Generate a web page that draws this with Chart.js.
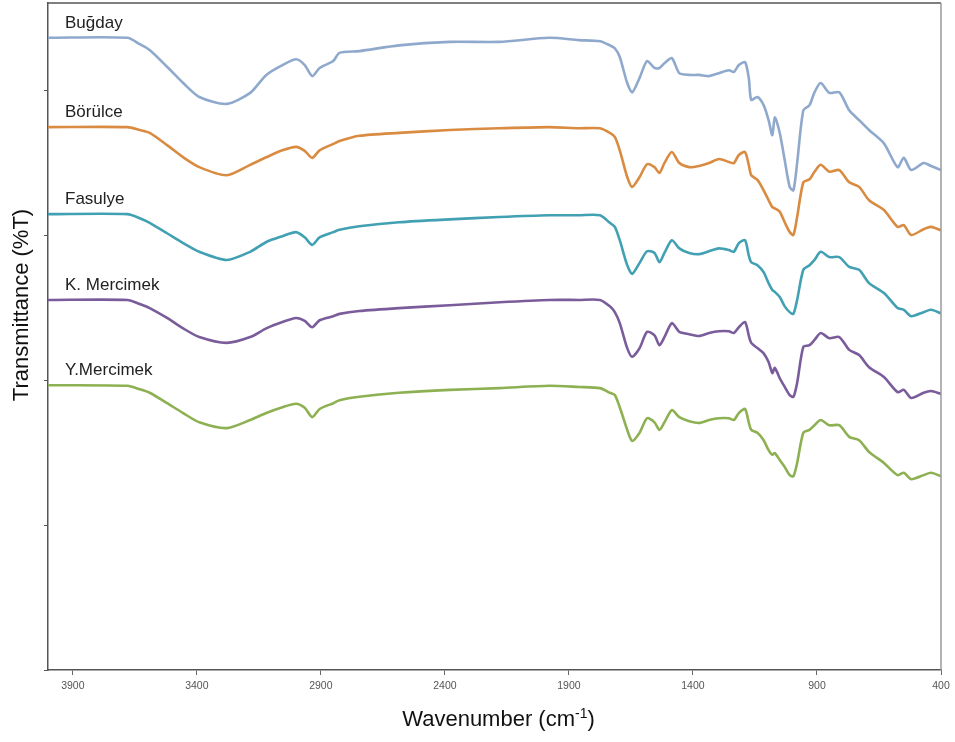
<!DOCTYPE html>
<html>
<head>
<meta charset="utf-8">
<script src="https://cdn.jsdelivr.net/npm/chart.js@4/dist/chart.umd.min.js"></script>
<style>
  html, body { margin: 0; padding: 0; background: #ffffff; }
  #wrap { width: 955px; height: 742px; }
</style>
</head>
<body>
<div id="wrap"><canvas id="ftir" width="955" height="742"></canvas></div>
<script>
// FTIR spectra of legume flours, stacked with vertical offsets
const wavenumbers = [4000,3680,3630,3590,3520,3455,3390,3280,3185,3120,3055,3000,2965,2935,2905,2850,2825,2745,2585,2380,2180,1980,1860,1775,1735,1715,1695,1665,1645,1615,1585,1555,1535,1515,1485,1455,1415,1375,1335,1295,1255,1235,1215,1190,1175,1165,1140,1115,1095,1080,1070,1050,1030,1010,995,980,955,930,910,885,850,810,770,730,690,630,575,550,520,470,440,400];

const seriesNames = ['Buğday', 'Börülce', 'Fasulye', 'K. Mercimek', 'Y.Mercimek'];

const bugday = [109.0,109.0,107.9,106.9,104.0,101.2,98.8,97.6,99.5,102.6,104.3,105.3,104.3,102.4,103.8,105.0,106.4,106.7,107.7,108.3,108.3,109.0,108.6,108.4,107.7,107.2,105.7,101.2,99.6,102.1,105.0,103.8,103.8,104.6,105.5,102.9,102.6,102.6,102.4,102.9,103.4,103.1,104.3,104.8,102.1,98.3,98.8,97.4,94.8,92.2,95.3,92.6,87.9,83.3,82.7,87.4,96.5,97.4,99.6,101.2,99.5,99.6,96.5,94.8,93.1,90.8,86.7,88.3,86.2,87.4,86.9,86.2];
const borulce = [93.6,93.6,93.1,92.6,90.5,88.4,86.7,85.3,87.1,88.4,89.6,90.2,89.5,88.3,89.6,90.7,91.2,92.1,92.6,93.1,93.4,93.6,93.4,93.4,92.6,91.9,89.6,85.0,83.3,85.0,87.2,86.7,85.7,87.4,89.3,87.4,86.7,86.9,87.4,88.1,87.6,87.4,88.8,89.3,87.1,85.3,84.5,82.7,81.0,79.8,79.6,79.0,77.2,75.5,75.0,78.1,84.1,84.6,85.9,87.1,85.9,86.2,84.1,83.3,81.0,79.3,76.4,76.7,75.0,76.0,76.4,75.8];
const fasulye = [78.6,78.6,77.9,77.1,75.3,73.6,72.1,70.7,72.1,73.8,74.8,75.5,74.6,73.3,74.6,75.5,75.9,76.5,77.2,77.7,78.1,78.4,78.4,78.4,77.1,76.4,74.1,69.8,68.3,70.2,72.2,71.9,70.3,71.9,74.1,72.7,71.9,71.7,72.2,72.7,72.4,72.1,73.6,74.1,71.5,70.3,69.8,68.6,66.7,65.5,65.2,64.3,62.7,61.7,61.4,63.8,69.0,69.8,70.7,72.1,71.2,71.2,69.5,69.0,66.7,65.0,62.4,62.1,61.0,61.7,62.1,61.5];
const kMercimek = [63.8,63.8,63.1,62.4,60.7,58.9,57.4,56.4,57.4,58.9,60.0,60.7,60.2,59.1,60.3,61.0,61.4,61.9,62.4,62.9,63.4,63.8,63.8,63.8,62.7,61.7,59.8,55.5,54.0,55.5,58.3,57.7,56.0,57.4,59.8,58.3,57.9,57.6,58.1,58.4,58.4,58.1,59.1,60.0,57.7,56.4,55.5,54.6,53.1,51.2,52.1,50.3,48.8,47.4,47.1,49.5,55.7,56.0,56.9,58.1,57.2,57.4,55.2,54.3,52.2,50.5,47.9,48.3,46.9,47.8,48.1,47.6];
const yMercimek = [49.1,49.0,48.4,47.8,46.0,44.3,42.7,41.7,43.1,44.3,45.3,45.9,45.2,43.6,45.0,46.0,46.5,47.1,47.8,48.3,48.6,49.0,48.8,48.6,47.8,47.4,45.3,41.4,39.5,40.9,43.4,42.7,41.4,42.7,44.8,43.6,42.9,42.6,43.1,43.4,43.4,43.1,44.3,45.0,42.7,41.4,40.9,39.6,37.9,37.1,37.4,36.2,35.0,33.6,33.4,35.7,40.9,41.4,42.2,43.1,42.2,42.2,40.2,39.6,37.6,35.7,33.6,34.0,32.9,33.6,34.0,33.4];

const xTickValues = [3900, 3400, 2900, 2400, 1900, 1400, 900, 400];
const yTickValues = [0, 25, 50, 75, 100];

const seriesValues = [bugday, borulce, fasulye, kMercimek, yMercimek];
const seriesColors = ['#8fa9cd', '#d98b42', '#42a0b3', '#7a5c9b', '#8db152'];

const FONT = '"Liberation Sans", Arial, sans-serif';

const datasets = seriesValues.map((vals, i) => ({
  label: seriesNames[i],
  data: wavenumbers.map((w, j) => ({ x: w, y: vals[j] })),
  borderColor: seriesColors[i],
  borderWidth: 2.6,
  pointRadius: 0,
  tension: 0.25,
  fill: false
}));

// Frame, in-plot series names and axis titles
const decorations = {
  id: 'decorations',
  afterDatasetsDraw(chart) {
    const { ctx, chartArea: a, scales } = chart;
    ctx.save();
    // top and right frame lines
    ctx.lineWidth = 1.5;
    ctx.strokeStyle = '#555555';
    ctx.beginPath();
    ctx.moveTo(a.left, a.top);
    ctx.lineTo(a.right, a.top);
    ctx.stroke();
    ctx.strokeStyle = '#9a9a9a';
    ctx.beginPath();
    ctx.moveTo(a.right, a.top);
    ctx.lineTo(a.right, a.bottom);
    ctx.stroke();

    // series names above each trace's starting plateau
    ctx.fillStyle = '#222222';
    ctx.font = '17px ' + FONT;
    ctx.textAlign = 'left';
    ctx.textBaseline = 'alphabetic';
    chart.data.datasets.forEach((ds) => {
      const y0 = scales.y.getPixelForValue(ds.data[0].y);
      ctx.fillText(ds.label, a.left + 17, y0 - 10);
    });

    // y axis title
    ctx.save();
    ctx.translate(22, 305);
    ctx.rotate(-Math.PI / 2);
    ctx.font = '22px ' + FONT;
    ctx.textAlign = 'center';
    ctx.textBaseline = 'middle';
    ctx.fillStyle = '#111111';
    ctx.fillText('Transmittance (%T)', 0, 0);
    ctx.restore();

    // x axis title with superscript
    const main = 'Wavenumber (cm';
    const sup = '-1';
    const close = ')';
    ctx.fillStyle = '#111111';
    ctx.textBaseline = 'alphabetic';
    ctx.font = '22px ' + FONT;
    const wMain = ctx.measureText(main).width;
    const wClose = ctx.measureText(close).width;
    ctx.font = '14px ' + FONT;
    const wSup = ctx.measureText(sup).width;
    const total = wMain + wSup + wClose;
    const cx = (a.left + a.right) / 2 + 4;
    let x = cx - total / 2;
    const base = 726;
    ctx.font = '22px ' + FONT;
    ctx.fillText(main, x, base);
    x += wMain;
    ctx.font = '14px ' + FONT;
    ctx.fillText(sup, x, base - 8);
    x += wSup;
    ctx.font = '22px ' + FONT;
    ctx.fillText(close, x, base);
    ctx.restore();
  }
};

new Chart(document.getElementById('ftir'), {
  type: 'line',
  data: { datasets },
  options: {
    responsive: false,
    animation: false,
    events: [],
    layout: { padding: { top: 3, right: 14, left: 0, bottom: 0 } },
    plugins: { legend: { display: false }, tooltip: { enabled: false } },
    scales: {
      x: {
        type: 'linear',
        reverse: true,
        min: 400,
        max: 4000,
        afterBuildTicks: (scale) => { scale.ticks = xTickValues.map(v => ({ value: v })); },
        afterFit: (scale) => { scale.height = 72; },
        grid: { display: true, drawOnChartArea: false, drawTicks: true, tickLength: 5, color: '#666666' },
        border: { display: true, color: '#555555', width: 1.5 },
        ticks: {
          autoSkip: false,
          maxRotation: 0,
          padding: 5,
          color: '#555555',
          font: { family: FONT, size: 10.5 },
          callback: (v) => String(v)
        }
      },
      y: {
        type: 'linear',
        min: 0,
        max: 115,
        afterBuildTicks: (scale) => { scale.ticks = yTickValues.map(v => ({ value: v })); },
        afterFit: (scale) => { scale.width = 48; },
        grid: { display: true, drawOnChartArea: false, drawTicks: true, tickLength: 4, color: '#555555' },
        border: { display: true, color: '#555555', width: 1.5 },
        ticks: { display: false }
      }
    }
  },
  plugins: [decorations]
});
</script>
</body>
</html>
